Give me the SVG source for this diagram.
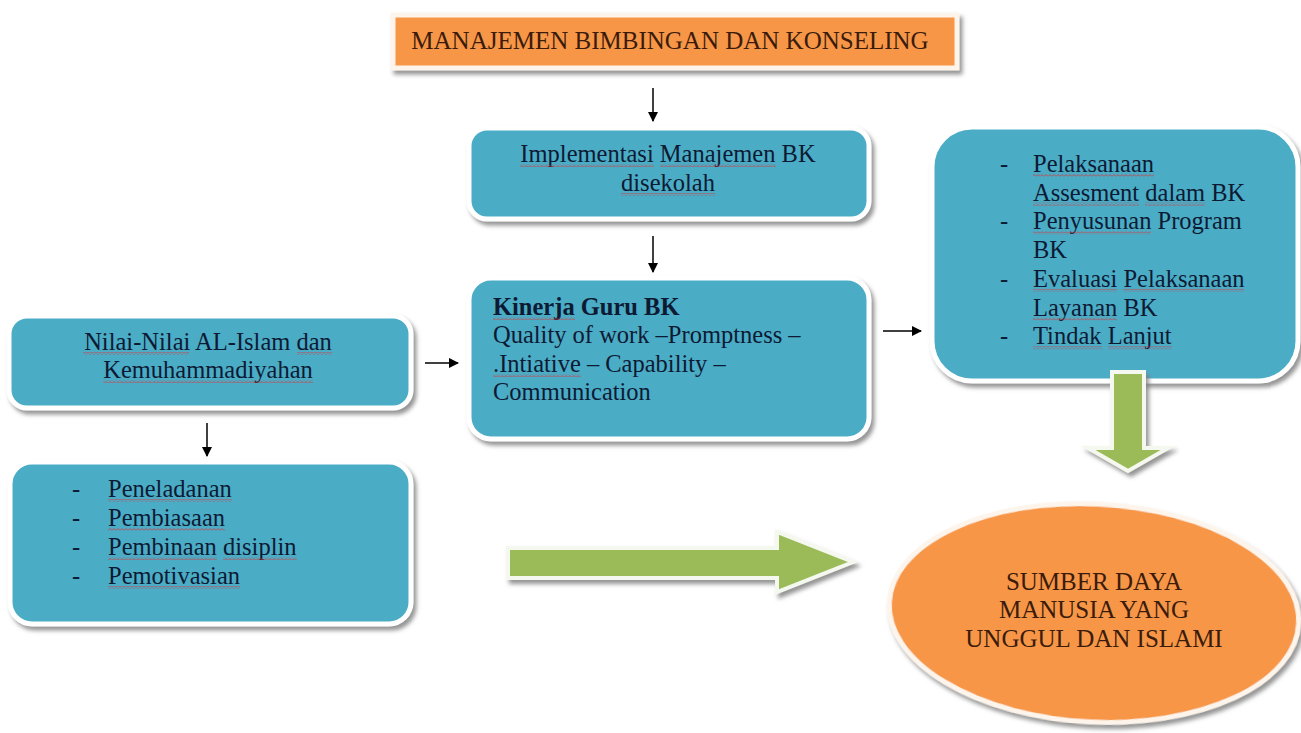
<svg xmlns="http://www.w3.org/2000/svg" width="1301" height="733" viewBox="0 0 1301 733">
<defs>
<style>
.box{fill:#4bacc6;stroke:#ffffff;stroke-width:5;filter:url(#sh)}
.orange{fill:#f79646;stroke:#fdf5ec;stroke-width:5;filter:url(#sh)}
.green{fill:#9bbb59;stroke:#f5f8ee;stroke-width:4;filter:url(#sh)}
.t{font-family:"Liberation Serif","Times New Roman",serif;font-size:24.5px;fill:#0d1a33}
.to{font-family:"Liberation Serif","Times New Roman",serif;font-size:25px;fill:#3b1c0c}
.b{font-weight:bold}
.wv{fill:url(#wave)}
.conn{stroke:#000;stroke-width:1.5;fill:none;marker-end:url(#ah)}
</style>
<filter id="sh" x="-10%" y="-10%" width="125%" height="130%">
<feDropShadow dx="3" dy="4" stdDeviation="2" flood-color="#7a7a7a" flood-opacity="0.8"/>
</filter>
<pattern id="wave" width="4" height="3" patternUnits="userSpaceOnUse">
<path d="M0,2.5 L2,0.5 L4,2.5" fill="none" stroke="#e03030" stroke-width="0.8"/>
</pattern>
<marker id="ah" viewBox="0 0 10 10" refX="9" refY="5" markerWidth="7" markerHeight="7" orient="auto" markerUnits="strokeWidth">
<path d="M0,0 L10,5 L0,10 z" fill="#000"/>
</marker>
</defs>
<rect width="1301" height="733" fill="#ffffff"/>

<g id="connectors">
<line class="conn" x1="653" y1="88" x2="653" y2="121"/>
<line class="conn" x1="653" y1="236" x2="653" y2="272"/>
<line class="conn" x1="425" y1="363" x2="458" y2="363"/>
<line class="conn" x1="883" y1="331" x2="921" y2="331"/>
<line class="conn" x1="207" y1="423" x2="207" y2="456"/>
</g>

<g id="title">
<rect class="orange" x="393" y="15" width="564" height="53"/>
<text class="to" x="670" y="49" text-anchor="middle">MANAJEMEN BIMBINGAN DAN KONSELING</text>
</g>

<g id="implementasi">
<rect class="box" x="469" y="128" width="400" height="91" rx="18"/>
<text class="t" x="668" y="162" text-anchor="middle">Implementasi Manajemen BK</text>
<text class="t" x="668" y="191" text-anchor="middle">disekolah</text>
<rect class="wv" x="520" y="164" width="134" height="3"/>
<rect class="wv" x="660" y="164" width="116" height="3"/>
<rect class="wv" x="621" y="193" width="94" height="3"/>
</g>

<g id="kinerja">
<rect class="box" x="469" y="278" width="400" height="161" rx="22"/>
<text class="t b" x="493" y="315">Kinerja Guru BK</text>
<text class="t" x="493" y="343">Quality of work –Promptness –</text>
<text class="t" x="493" y="372">.Intiative – Capability –</text>
<text class="t" x="493" y="400">Communication</text>
<rect class="wv" x="493" y="317" width="82" height="3"/>
<rect class="wv" x="493" y="374" width="88" height="3"/>
</g>

<g id="tahapan">
<rect class="box" x="932" y="127" width="366" height="254" rx="40"/>
<g class="t">
<text x="1000" y="172">-</text><text x="1033" y="172">Pelaksanaan</text>
<text x="1033" y="200.7">Assesment dalam BK</text>
<text x="1000" y="229.4">-</text><text x="1033" y="229.4">Penyusunan Program</text>
<text x="1033" y="258.1">BK</text>
<text x="1000" y="286.8">-</text><text x="1033" y="286.8">Evaluasi Pelaksanaan</text>
<text x="1033" y="315.5">Layanan BK</text>
<text x="1000" y="344.2">-</text><text x="1033" y="344.2">Tindak Lanjut</text>
</g>
<rect class="wv" x="1033" y="174" width="121" height="3"/>
<rect class="wv" x="1033" y="202.7" width="106" height="3"/>
<rect class="wv" x="1145" y="202.7" width="60" height="3"/>
<rect class="wv" x="1033" y="231.4" width="118" height="3"/>
<rect class="wv" x="1033" y="288.8" width="84" height="3"/>
<rect class="wv" x="1123" y="288.8" width="121" height="3"/>
<rect class="wv" x="1033" y="317.5" width="84" height="3"/>
<rect class="wv" x="1033" y="346.2" width="69" height="3"/>
<rect class="wv" x="1108" y="346.2" width="64" height="3"/>
</g>

<g id="nilai">
<rect class="box" x="9" y="316" width="402" height="92" rx="18"/>
<text class="t" x="208" y="350" text-anchor="middle">Nilai-Nilai AL-Islam dan</text>
<text class="t" x="208" y="378" text-anchor="middle">Kemuhammadiyahan</text>
<rect class="wv" x="83" y="352" width="106" height="3"/>
<rect class="wv" x="297" y="352" width="35" height="3"/>
<rect class="wv" x="103" y="380" width="210" height="3"/>
</g>

<g id="pembinaan">
<rect class="box" x="10" y="462" width="401" height="162" rx="22"/>
<g class="t">
<text x="72" y="497">-</text><text x="108" y="497">Peneladanan</text>
<text x="72" y="526">-</text><text x="108" y="526">Pembiasaan</text>
<text x="72" y="555">-</text><text x="108" y="555">Pembinaan disiplin</text>
<text x="72" y="584">-</text><text x="108" y="584">Pemotivasian</text>
</g>
<rect class="wv" x="108" y="499" width="124" height="3"/>
<rect class="wv" x="108" y="528" width="117" height="3"/>
<rect class="wv" x="108" y="557" width="109" height="3"/>
<rect class="wv" x="223" y="557" width="74" height="3"/>
<rect class="wv" x="108" y="586" width="132" height="3"/>
</g>

<g id="arrow-down">
<path class="green" d="M1112,372 L1144,372 L1144,448 L1168,448 L1128,471 L1088,448 L1112,448 Z"/>
</g>

<g id="arrow-right">
<path class="green" d="M508,548 L777,548 L777,532 L853,562 L777,592 L777,578 L508,578 Z"/>
</g>

<g id="sdm">
<ellipse class="orange" cx="1094" cy="613" rx="205" ry="109" transform="rotate(3 1094 613)"/>
<text class="to" x="1094" y="590" text-anchor="middle">SUMBER DAYA</text>
<text class="to" x="1094" y="618" text-anchor="middle">MANUSIA YANG</text>
<text class="to" x="1094" y="647" text-anchor="middle">UNGGUL DAN ISLAMI</text>
</g>
</svg>
